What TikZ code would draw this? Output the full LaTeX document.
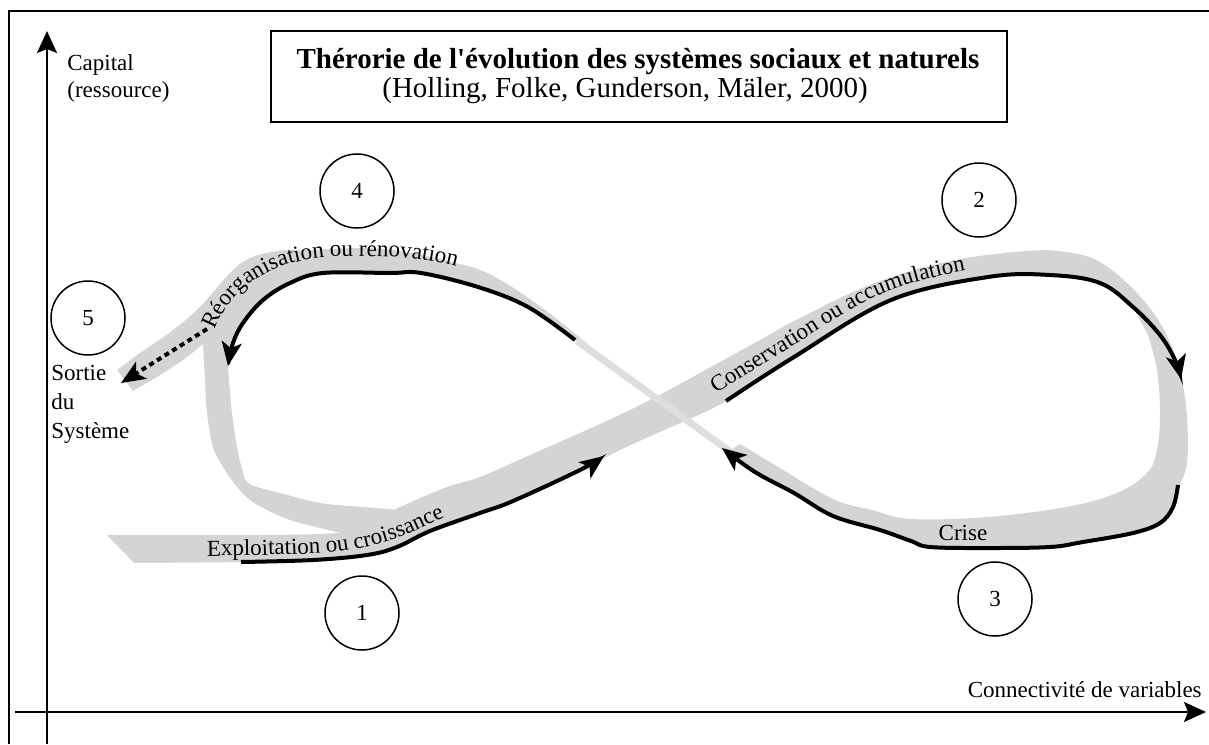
\documentclass[tikz,border=0pt]{standalone}
\usepackage{fontspec}
\setmainfont{Liberation Serif}
\usetikzlibrary{arrows.meta,decorations.text}
\definecolor{gris}{HTML}{D4D4D4}
\definecolor{grisclair}{HTML}{DEDEDE}
\newcommand{\etiq}{\fontsize{11.5}{13.5}\selectfont}
\newcommand{\titre}{\fontsize{14.5}{17}\selectfont}

\begin{document}
\begin{tikzpicture}[x=0.5pt, y=-0.5pt,
  every node/.style={font=\etiq, inner sep=0pt},
  etape/.style={circle, draw, line width=0.75pt, minimum size=37pt},
  bande/.style={fill=gris},
  fin/.style={draw=grisclair, line width=3.5pt},
  trait/.style={line width=2pt},
  fleche/.style={trait, -{Stealth[length=12pt,width=10pt,inset=3pt]}},
  pointille/.style={fleche, dash pattern=on 2.5pt off 2pt},
  axe/.style={line width=1pt, -{Stealth[length=11pt,width=10pt,inset=2pt]}},
  courbe/.style={smooth, tension=0.6},
  legende/.style={decorate, decoration={text along path, text={|\etiq|#1}}}]
  \useasboundingbox (0,0) rectangle (1209,744);

  % cadre et axes
  \draw[line width=1pt] (9,744) -- (9,11) -- (1209,11);
  \coordinate (ybas) at (47,744);
  \coordinate (yhaut) at (47,31);
  \coordinate (xgauche) at (15,712);
  \coordinate (xdroite) at (1206,712);
  \draw[axe] (ybas) -- (yhaut);
  \draw[axe] (xgauche) -- (xdroite);

  % bandes grises
  \fill[bande] plot[courbe] coordinates {(107,535) (320,534) (365,524) (400,507) (447,487) (480,477) (530,455) (600,424) (650,400) (700,373) (760,340) (800,318) (872,284) (950,261) (1027,251) (1066,252) (1100,262) (1136,292) (1163,328) (1180,372) (1187,417) (1187,463) (1180,484)}
    -- plot[courbe] coordinates {(1178,486) (1173,507) (1160,523) (1133,533) (1083,542) (1050,547) (988,548) (930,547) (911,540) (880,530) (833,517) (794,493) (755,473) (728,452)}
    -- plot[courbe] coordinates {(740,444) (775,465) (833,499) (872,510) (911,519) (988,517) (1066,507) (1117,493) (1147,473) (1157,450) (1160,413) (1157,370) (1148,335)}
    -- plot[courbe] coordinates {(1133,307) (1100,283) (1050,275) (988,277) (891,300) (794,357) (726,401) (687,420) (620,450) (580,472) (513,503) (480,513) (430,530) (397,547) (367,555) (313,560) (241,562) (134,563)}
    -- cycle;
  \fill[bande] plot[courbe] coordinates {(590,346) (545,310) (497,278) (460,264) (383,249) (306,250) (277,251) (250,258) (230,273) (200,307) (173,330) (140,353) (117,370)}
    -- (133,391)
    -- plot[courbe] coordinates {(157,377) (183,360) (203,344)}
    -- plot[courbe] coordinates {(205,380) (207,413) (213,447) (223,467) (237,487) (250,500) (267,510) (290,520) (320,528) (337,532) (380,540)}
    -- plot[courbe] coordinates {(400,510) (363,507) (320,503) (280,493) (257,487) (247,482) (243,473) (237,447) (232,413) (229,380) (228,366)}
    -- plot[courbe] coordinates {(233,343) (243,323) (263,300) (290,283) (323,273) (390,273) (421,273) (478,287) (528,307) (575,340)}
    -- cycle;
  \coordinate (finhaut) at (577,341);
  \coordinate (finbas) at (735,455);
  \draw[fin] (finhaut) -- (finbas);

  % fleches noires
  \draw[fleche] plot[courbe] coordinates {(241,562) (313,560) (367,555) (397,547) (430,531) (480,513) (513,501) (580,470) (604,456)};
  \draw[fleche] plot[courbe] coordinates {(726,401) (794,357) (891,300) (988,277) (1050,275) (1100,283) (1133,307) (1160,335) (1175,360) (1181,379)};
  \draw[fleche] plot[courbe] coordinates {(1178,485) (1173,507) (1160,523) (1133,533) (1083,542) (1050,547) (988,548) (930,547) (911,541) (880,530) (833,516) (794,493) (755,472) (722,448)};
  \draw[fleche] plot[courbe] coordinates {(575,340) (528,307) (478,287) (421,273) (390,273) (323,273) (290,283) (263,300) (243,323) (233,343) (228,366)};
  \coordinate (depart) at (207,329);
  \coordinate (sortie) at (121,383);
  \draw[pointille] (depart) -- (sortie);

  % textes le long des bandes
  \path[legende={Exploitation ou croissance}] plot[courbe] coordinates {(207,556) (300,554) (350,550) (400,537) (445,517) (500,492)};
  \path[legende={Conservation ou accumulation}] plot[courbe] coordinates {(716,394) (786,350) (884,293) (985,267) (1040,265) (1080,268)};
  \path[legende={Réorganisation ou rénovation}] plot[courbe] coordinates {(215,330) (228,305) (250,283) (285,265) (330,257) (390,257) (430,261) (470,271) (510,290) (540,308)};
  \node[anchor=base] (crise) at (963,540) {Crise};

  % etapes
  \node[etape] (e1) at (362,613) {1};
  \node[etape] (e2) at (979,200) {2};
  \node[etape] (e3) at (995,599) {3};
  \node[etape] (e4) at (357,191) {4};
  \node[etape] (e5) at (88,318) {5};

  % titre
  \node[draw, line width=0.8pt, minimum width=368pt, minimum height=45.5pt] (cadre) at (639,76.5) {};
  \node[anchor=base, font=\titre\bfseries] (titre1) at (638,68) {Thérorie de l\textquotesingle évolution des systèmes sociaux et naturels};
  \node[anchor=base, font=\titre] (titre2) at (625,97) {(Holling, Folke, Gunderson, Mäler, 2000)};

  % axes
  \node[anchor=base west] (capital) at (67,70) {Capital};
  \node[anchor=base west] (ressource) at (67,97) {(ressource)};
  \node[anchor=base east] (connect) at (1202,697) {Connectivité de variables};
  \node[anchor=base west] (sortie1) at (51,380) {Sortie};
  \node[anchor=base west] (sortie2) at (51,409) {du};
  \node[anchor=base west] (sortie3) at (51,438) {Système};
\end{tikzpicture}
\end{document}
